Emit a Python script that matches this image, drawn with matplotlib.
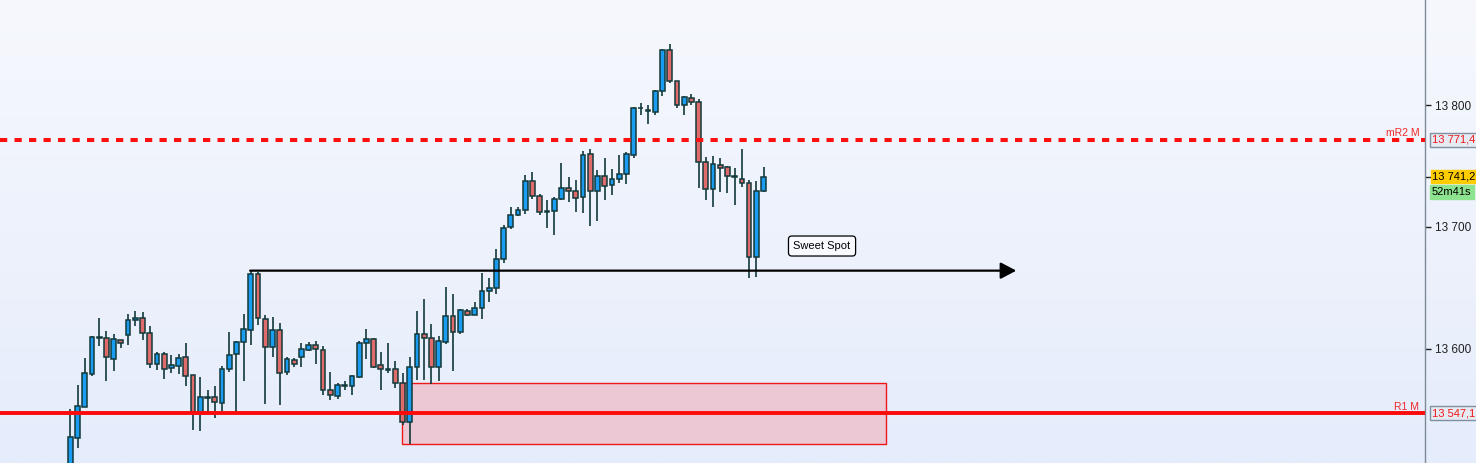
import numpy as np
import matplotlib
matplotlib.use("Agg")
import matplotlib.pyplot as plt
from matplotlib.colors import LinearSegmentedColormap
from matplotlib.patches import Rectangle

plt.rcParams['font.family'] = ['Liberation Sans', 'DejaVu Sans']

# candle data (oldest -> newest)
opens = [13492.6, 13527.3, 13552.7, 13579.7, 13609.0, 13608.8, 13592.0, 13607.1, 13611.7, 13623.5,
         13625.2, 13612.9, 13587.9, 13595.6, 13584.2, 13586.3, 13593.2, 13578.4, 13547.3, 13560.1,
         13560.4, 13555.3, 13583.4, 13596.1, 13605.3, 13615.8, 13661.2, 13624.3, 13601.9, 13615.3,
         13580.9, 13590.7, 13593.2, 13598.9, 13603.0, 13598.9, 13566.1, 13561.2, 13569.9, 13569.4,
         13576.8, 13604.7, 13607.9, 13586.6, 13583.0, 13583.4, 13571.9, 13539.9, 13585.0, 13612.0,
         13608.8, 13585.0, 13605.5, 13626.8, 13613.7, 13630.9, 13627.6, 13633.4, 13647.3, 13649.8,
         13673.5, 13699.7, 13709.6, 13713.7, 13737.5, 13725.2, 13712.5, 13712.9, 13722.7, 13731.7,
         13729.3, 13724.3, 13759.6, 13729.3, 13741.6, 13734.2, 13739.1, 13743.2, 13758.8, 13797.3,
         13796.0, 13794.0, 13811.2, 13844.8, 13819.4, 13799.8, 13805.5, 13802.2, 13753.0, 13730.9,
         13750.6, 13748.9, 13741.2, 13739.1, 13735.8, 13675.2, 13729.8]
highs = [13550.8, 13570.2, 13592.4, 13610.7, 13625.4, 13614.7, 13612.3, 13607.1, 13628.7, 13631.1,
         13630.3, 13618.8, 13597.8, 13597.8, 13594.8, 13595.9, 13604.9, 13578.4, 13576.8, 13566.1,
         13569.4, 13585.8, 13613.9, 13606.5, 13628.4, 13663.9, 13663.1, 13627.6, 13626.2, 13621.3,
         13593.2, 13592.4, 13604.7, 13605.5, 13606.5, 13602.2, 13580.9, 13571.9, 13573.5, 13578.4,
         13606.3, 13616.1, 13608.8, 13597.3, 13604.7, 13589.9, 13580.1, 13593.2, 13630.9, 13640.7,
         13620.2, 13610.4, 13650.6, 13645.1, 13632.5, 13632.5, 13638.3, 13662.0, 13657.9, 13681.7,
         13701.4, 13716.1, 13716.1, 13742.4, 13744.8, 13726.8, 13721.9, 13724.3, 13752.2, 13740.7,
         13738.3, 13762.0, 13763.7, 13746.5, 13756.3, 13747.3, 13758.8, 13761.2, 13798.1, 13801.4,
         13799.8, 13812.0, 13845.9, 13849.8, 13819.4, 13807.1, 13808.8, 13804.7, 13757.1, 13757.9,
         13756.3, 13749.8, 13748.1, 13763.7, 13738.3, 13737.5, 13749.4]
lows = [13485.0, 13519.1, 13552.5, 13578.1, 13602.7, 13574.0, 13582.2, 13601.1, 13603.5, 13619.1,
        13607.6, 13584.7, 13583.0, 13575.6, 13580.3, 13579.5, 13569.9, 13533.8, 13532.8, 13548.1,
        13543.8, 13549.4, 13581.4, 13548.4, 13574.0, 13603.5, 13619.9, 13554.9, 13593.7, 13554.3,
        13578.9, 13585.0, 13585.0, 13598.6, 13587.5, 13562.5, 13557.9, 13558.8, 13566.6, 13562.0,
        13576.0, 13592.0, 13584.7, 13566.6, 13580.6, 13568.3, 13537.7, 13522.4, 13574.8, 13574.8,
        13571.1, 13574.0, 13603.8, 13582.2, 13612.0, 13626.8, 13627.6, 13624.3, 13638.3, 13645.3,
        13670.2, 13698.1, 13708.8, 13710.4, 13722.7, 13709.6, 13698.9, 13693.2, 13722.5, 13720.2,
        13712.0, 13711.2, 13701.2, 13705.3, 13722.5, 13726.0, 13735.7, 13735.0, 13756.3, 13791.6,
        13784.2, 13791.6, 13807.1, 13817.8, 13797.3, 13791.6, 13799.8, 13731.7, 13721.9, 13716.1,
        13728.9, 13727.6, 13717.8, 13732.5, 13657.9, 13658.8, 13729.0]
closes = [13527.9, 13553.0, 13580.1, 13609.6, 13609.0, 13593.2, 13607.9, 13604.7, 13623.5, 13625.2,
          13612.9, 13587.9, 13595.6, 13583.8, 13586.6, 13592.4, 13578.1, 13548.4, 13560.4, 13560.1,
          13556.3, 13583.4, 13594.8, 13605.5, 13616.1, 13661.2, 13625.2, 13601.9, 13615.3, 13580.1,
          13591.6, 13587.5, 13599.7, 13603.0, 13599.7, 13566.1, 13562.0, 13570.2, 13569.9, 13577.6,
          13604.7, 13607.9, 13585.5, 13583.4, 13583.0, 13571.9, 13539.9, 13585.0, 13612.0, 13608.8,
          13585.0, 13606.3, 13626.8, 13613.7, 13631.7, 13627.6, 13633.4, 13647.3, 13649.8, 13673.5,
          13698.9, 13709.6, 13713.7, 13737.5, 13725.2, 13712.0, 13712.5, 13722.7, 13731.7, 13729.3,
          13723.5, 13758.8, 13729.3, 13741.6, 13733.4, 13739.1, 13743.2, 13759.6, 13797.3, 13797.3,
          13795.5, 13811.2, 13844.8, 13819.4, 13799.8, 13806.3, 13802.2, 13753.0, 13730.9, 13751.4,
          13748.1, 13741.6, 13741.2, 13735.8, 13675.2, 13729.3, 13741.2]

# levels and annotations
r2_level = 13771.4
r1_level = 13547.1
last_price = 13741.2
timer_text = "52m41s"
swing_high = 13664.2
zone_low, zone_high = 13522.1, 13572.1
zone_start, zone_end = 45.9, 113.0
arrow_start, arrow_end = 24.9, 131.0
price_ticks = [13600, 13700, 13800]

up_col = '#1a9cf0'
down_col = '#e06b6b'
edge_col = '#12393b'


def fmt(v, dec=0):
    s = f"{v:,.{dec}f}".replace(",", " ")
    return s.replace(".", ",")


fig = plt.figure(figsize=(14.76, 4.63), dpi=100)

# gradient background
bg = fig.add_axes([0, 0, 1, 1], zorder=-5)
cmap = LinearSegmentedColormap.from_list('bg', ['#e5ecfb', '#f6f8fd'])
bg.imshow(np.linspace(0, 1, 256).reshape(-1, 1), aspect='auto', cmap=cmap,
          origin='lower', extent=[0, 1, 0, 1])
bg.axis('off')

ax = fig.add_axes([0, 0, 1425 / 1476, 1])
ax.patch.set_alpha(0)

x = np.arange(len(opens))
o = np.array(opens)
h = np.array(highs)
l = np.array(lows)
c = np.array(closes)

colors = [up_col if cc > oo else (down_col if cc < oo else edge_col) for oo, cc in zip(o, c)]
bottoms = np.minimum(o, c)
heights = np.maximum(np.abs(c - o), 0.5)

ax.vlines(x, l, h, color=edge_col, lw=1.2, zorder=3)
ax.bar(x, heights, bottom=bottoms, width=0.66, color=colors, edgecolor=edge_col,
       linewidth=1.1, zorder=4)

# demand zone
ax.add_patch(Rectangle((zone_start, zone_low), zone_end - zone_start, zone_high - zone_low,
                       facecolor='#ecc8d5', edgecolor='#f01818', lw=1.0, zorder=1))

# pivot lines
ax.axhline(r2_level, color='#ff1010', lw=2.9, dashes=(1.8, 1.8), zorder=6)
ax.axhline(r1_level, color='#ff0a0a', lw=2.8, zorder=6)

# swing high arrow
ax.annotate('', xy=(arrow_end, swing_high), xytext=(arrow_start, swing_high),
            arrowprops=dict(arrowstyle='-|>,head_length=0.95,head_width=0.5', color='black',
                            lw=1.6, mutation_scale=10, shrinkA=0, shrinkB=0), zorder=7)
ax.text(104.1, 13684.4, 'Sweet Spot', fontsize=8, ha='center', va='center', zorder=8,
        bbox=dict(boxstyle='round,pad=0.45,rounding_size=0.3', fc='#f8faff', ec='black', lw=0.9))

ax.set_xlim(-9.74, 187.6)
ax.set_ylim(13506.5, 13886.1)

for s in ['left', 'top', 'bottom']:
    ax.spines[s].set_visible(False)
ax.spines['right'].set_color('#7d8a98')
ax.spines['right'].set_linewidth(1.0)
ax.set_xticks([])
ax.yaxis.tick_right()
ax.set_yticks(price_ticks + [last_price])
ax.set_yticklabels([fmt(v) for v in price_ticks] + [''])
ax.tick_params(axis='y', length=4, width=1, colors='#202020', labelsize=8.5, pad=3)

ytr = ax.get_yaxis_transform()
ax.text(0.996, r2_level + 1.5, 'mR2 M', color='#f02828', fontsize=7.5, ha='right',
        va='bottom', transform=ytr)
ax.text(0.996, r1_level + 1.5, 'R1 M', color='#f02828', fontsize=7.5, ha='right',
        va='bottom', transform=ytr)

box_x = 1 + 7 / 1425
ax.text(box_x, r2_level, fmt(r2_level, 1), color='#f01818', fontsize=8, ha='left', va='center',
        transform=ytr, clip_on=False,
        bbox=dict(boxstyle='square,pad=0.18', fc='#e6eaf3', ec='#8090a0', lw=1))
ax.text(box_x, r1_level, fmt(r1_level, 1), color='#f01818', fontsize=8, ha='left', va='center',
        transform=ytr, clip_on=False,
        bbox=dict(boxstyle='square,pad=0.18', fc='#e6eaf3', ec='#8090a0', lw=1))
ax.text(box_x, last_price, fmt(last_price, 1), color='black', fontsize=8, ha='left', va='center',
        transform=ytr, clip_on=False,
        bbox=dict(boxstyle='square,pad=0.12', fc='#ffcc00', ec='#ffcc00', lw=1))
ax.text(box_x, 13728.7, timer_text, color='black', fontsize=8, ha='left', va='center',
        transform=ytr, clip_on=False,
        bbox=dict(boxstyle='square,pad=0.18', fc='#8ee48e', ec='#8ee48e', lw=1))

fig.savefig('out.png', dpi=100)
